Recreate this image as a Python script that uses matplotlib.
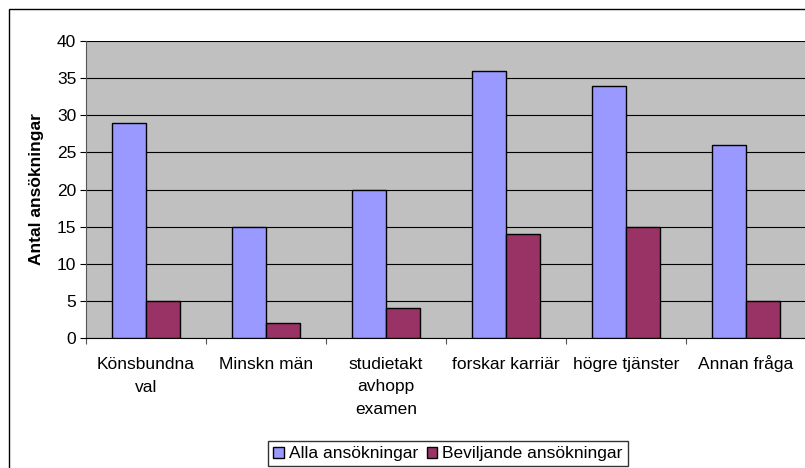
import matplotlib.pyplot as plt
import numpy as np
from matplotlib.patches import Rectangle
from matplotlib.transforms import blended_transform_factory, offset_copy

categories = ["Könsbundna\nval", "Minskn män", "studietakt\navhopp\nexamen",
              "forskar karriär", "högre tjänster", "Annan fråga"]
alla = [29, 15, 20, 36, 34, 26]
beviljande = [5, 2, 4, 14, 15, 5]
series_names = ["Alla ansökningar", "Beviljande ansökningar"]

plt.rcParams['font.family'] = ['Liberation Sans', 'DejaVu Sans']
fs = 12.5

W, H = 805, 468
fig = plt.figure(figsize=(W / 100, H / 100), dpi=100)
ax = fig.add_axes([86 / W, 1 - 338 / H, 720 / W, 297 / H])

x = np.arange(len(categories))
bw = 1 / 3.5
ax.bar(x - bw / 2, alla, bw, color='#9999FF', edgecolor='black', linewidth=1, label=series_names[0], zorder=3)
ax.bar(x + bw / 2, beviljande, bw, color='#993366', edgecolor='black', linewidth=1, label=series_names[1], zorder=3)

ax.set_facecolor('#C0C0C0')
ax.set_xlim(-0.5, len(categories) - 0.5)
ax.set_ylim(0, 40)
ax.set_yticks(range(0, 41, 5))
ax.yaxis.grid(True, color='black', linewidth=0.8, zorder=1)
ax.set_axisbelow(True)
ax.set_xticks(np.arange(-0.5, len(categories)))
ax.set_xticklabels([])
ax.tick_params(axis='x', length=4, color='#555555')
ax.tick_params(axis='y', length=4, labelsize=fs, pad=3)
for s in ['top', 'right']:
    ax.spines[s].set_visible(False)
ax.spines['left'].set_color('#555555')
ax.spines['bottom'].set_color('black')
ax.set_ylabel('Antal ansökningar', fontsize=fs, fontweight='bold', labelpad=9)

# category labels, line by line so the first lines share a baseline
trans = blended_transform_factory(ax.transData, ax.transAxes)
for xi, lab in zip(x, categories):
    for i, line in enumerate(lab.split('\n')):
        t = offset_copy(trans, fig=fig, x=0, y=-(31 + 22.5 * i) * 72 / 100, units='points')
        ax.text(xi, 0, line, transform=t, ha='center', va='baseline', fontsize=fs)

fig.patches.append(Rectangle((9 / W, -0.1), 1.2, 1 - 9 / H + 0.1, transform=fig.transFigure,
                             fill=False, edgecolor='black', linewidth=1, zorder=0))

leg = fig.legend(loc='upper left', bbox_to_anchor=(268 / W, 1 - 441 / H), ncol=2,
                 fontsize=fs, frameon=True, fancybox=False, edgecolor='black',
                 handlelength=0.6, handleheight=0.6, handletextpad=0.3, columnspacing=0.5,
                 borderpad=0.3, borderaxespad=0)
leg.get_frame().set_linewidth(1)

fig.savefig('out.png', dpi=100)
